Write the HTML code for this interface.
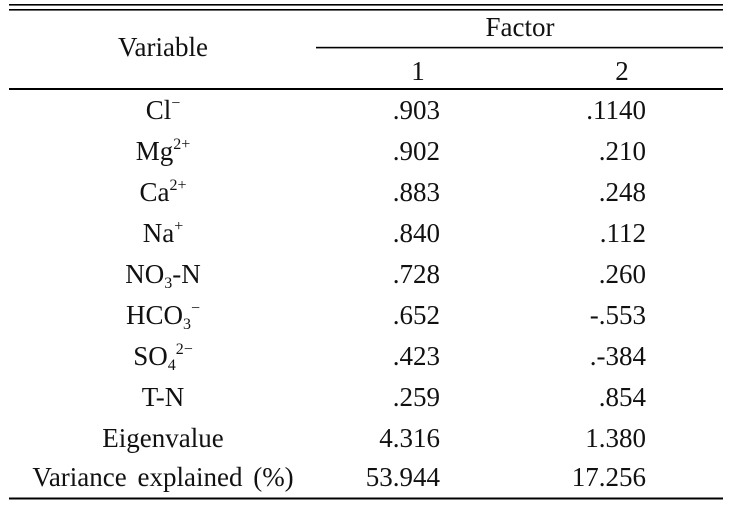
<!DOCTYPE html>
<html><head><style>
html,body{margin:0;padding:0;background:#fff;}
svg{display:block;}
text{font-family:"Liberation Serif","Times New Roman",serif;font-size:27px;fill:#111;}
.s{font-size:16px;}
</style></head><body>
<svg width="732" height="505" viewBox="0 0 732 505">
<rect x="9" y="4" width="714" height="1.6" fill="#000"/>
<rect x="9" y="9" width="714" height="1.6" fill="#000"/>
<rect x="316" y="46.8" width="407" height="1.6" fill="#000"/>
<rect x="9" y="88" width="714" height="2" fill="#000"/>
<rect x="9" y="497.5" width="714" height="2" fill="#000"/>
<text x="163" y="56" text-anchor="middle">Variable</text>
<text x="520" y="36" text-anchor="middle">Factor</text>
<text x="418" y="80" text-anchor="middle">1</text>
<text x="622" y="80" text-anchor="middle">2</text>
<g text-anchor="middle">
<text x="163" y="119">Cl<tspan class="s" dy="-11">−</tspan></text>
<text x="163" y="160">Mg<tspan class="s" dy="-11">2+</tspan></text>
<text x="163" y="201">Ca<tspan class="s" dy="-11">2+</tspan></text>
<text x="163" y="242">Na<tspan class="s" dy="-11">+</tspan></text>
<text x="163" y="283">NO<tspan class="s" dy="5">3</tspan><tspan dy="-5">-N</tspan></text>
<text x="163" y="324">HCO<tspan class="s" dy="5">3</tspan><tspan class="s" dy="-16">−</tspan></text>
<text x="163" y="365">SO<tspan class="s" dy="5">4</tspan><tspan class="s" dy="-16">2−</tspan></text>
<text x="163" y="406">T-N</text>
<text x="163" y="447">Eigenvalue</text>
<text x="163" y="486" word-spacing="4">Variance explained (%)</text>
</g>
<g text-anchor="end">
<text x="440" y="119">.903</text><text x="646" y="119">.1140</text>
<text x="440" y="160">.902</text><text x="646" y="160">.210</text>
<text x="440" y="201">.883</text><text x="646" y="201">.248</text>
<text x="440" y="242">.840</text><text x="646" y="242">.112</text>
<text x="440" y="283">.728</text><text x="646" y="283">.260</text>
<text x="440" y="324">.652</text><text x="646" y="324">-.553</text>
<text x="440" y="365">.423</text><text x="646" y="365">.-384</text>
<text x="440" y="406">.259</text><text x="646" y="406">.854</text>
<text x="440" y="447">4.316</text><text x="646" y="447">1.380</text>
<text x="440" y="486">53.944</text><text x="646" y="486">17.256</text>
</g>
</svg>
</body></html>
